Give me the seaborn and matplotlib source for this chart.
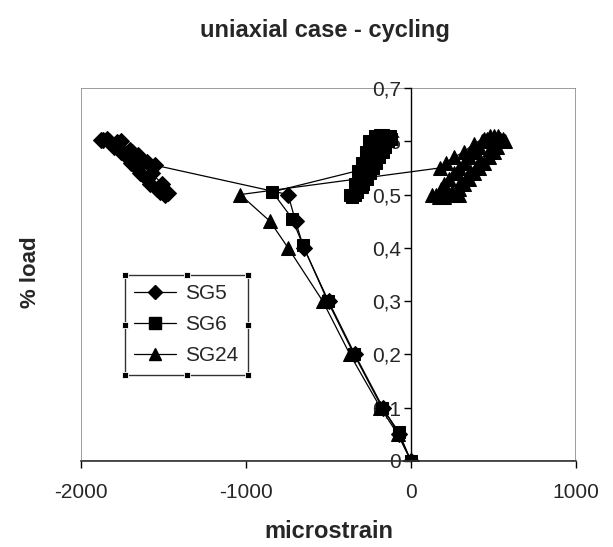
import matplotlib
matplotlib.use("Agg")
import matplotlib.pyplot as plt
from matplotlib.patches import Rectangle
from matplotlib.lines import Line2D
from matplotlib.ticker import FuncFormatter
import seaborn as sns
import pandas as pd

# strain gauge readings: monotonic loading to 50 %, then cycling between 50 % and 60 %
sg5_strain = [0, -75, -170, -340, -500, -650, -700, -745,
              -1550, -1600, -1655, -1705, -1780, -1865,
              -1830, -1760, -1700, -1640, -1580, -1520, -1475,
              -1510, -1570, -1630, -1690, -1760, -1840, -1880,
              -1800, -1720, -1660, -1600, -1540, -1490]
sg5_load = [0, 0.05, 0.10, 0.20, 0.30, 0.40, 0.45, 0.50,
            0.555, 0.562, 0.574, 0.583, 0.598, 0.602,
            0.600, 0.580, 0.560, 0.540, 0.520, 0.505, 0.503,
            0.520, 0.540, 0.560, 0.580, 0.600, 0.605, 0.603,
            0.590, 0.570, 0.550, 0.530, 0.510, 0.500]

sg6_strain = [0, -75, -175, -345, -505, -655, -720, -840,
              -320, -300, -275, -255, -220, -170, -130,
              -160, -195, -230, -265, -300, -340, -370,
              -340, -300, -270, -250, -230, -190, -150, -120,
              -170, -210, -250, -290, -330, -360,
              -330, -290, -260, -240, -210, -180, -140]
sg6_load = [0, 0.055, 0.10, 0.20, 0.30, 0.405, 0.455, 0.505,
            0.545, 0.560, 0.580, 0.600, 0.610, 0.612, 0.610,
            0.590, 0.570, 0.550, 0.530, 0.515, 0.500, 0.500,
            0.520, 0.540, 0.560, 0.580, 0.600, 0.612, 0.610, 0.605,
            0.580, 0.560, 0.540, 0.520, 0.505, 0.495,
            0.510, 0.530, 0.550, 0.570, 0.590, 0.600, 0.600]

sg24_strain = [0, -80, -185, -370, -535, -745, -855, -1035,
               176, 210, 260, 320, 380, 440, 500, 560,
               520, 470, 410, 350, 290, 230, 170, 130,
               180, 230, 290, 350, 410, 460, 530, 570,
               500, 440, 380, 320, 260, 200, 150,
               200, 260, 320, 380, 430, 480, 540,
               480, 420, 360, 300, 250, 290]
sg24_load = [0, 0.05, 0.10, 0.20, 0.30, 0.40, 0.45, 0.50,
             0.550, 0.560, 0.570, 0.580, 0.595, 0.605, 0.610, 0.605,
             0.590, 0.570, 0.550, 0.530, 0.510, 0.500, 0.495, 0.500,
             0.510, 0.530, 0.550, 0.570, 0.590, 0.605, 0.610, 0.600,
             0.580, 0.560, 0.540, 0.520, 0.500, 0.495, 0.500,
             0.520, 0.540, 0.560, 0.580, 0.600, 0.610, 0.605,
             0.585, 0.565, 0.545, 0.525, 0.505, 0.500]

series_names = ["SG5", "SG6", "SG24"]
series_markers = {"SG5": "D", "SG6": "s", "SG24": "^"}
series_sizes = {"SG5": 8, "SG6": 8.5, "SG24": 9.5}

x_ticks = [-2000, -1000, 0, 1000]
y_ticks = [0, 0.1, 0.2, 0.3, 0.4, 0.5, 0.6, 0.7]

frames = []
for name, xs, ys in zip(series_names,
                        [sg5_strain, sg6_strain, sg24_strain],
                        [sg5_load, sg6_load, sg24_load]):
    frames.append(pd.DataFrame({"microstrain": xs, "load": ys, "gauge": name}))
df = pd.concat(frames, ignore_index=True)

sns.set_style("white")
plt.rcParams["font.family"] = ["Liberation Sans", "DejaVu Sans"]
plt.rcParams["axes.unicode_minus"] = False

fig = plt.figure(figsize=(6.13, 5.47), dpi=100)
ax = fig.add_axes([81 / 613, 1 - 461 / 547, 495 / 613, 373 / 547])

for name in series_names:
    sub = df[df["gauge"] == name]
    sns.lineplot(data=sub, x="microstrain", y="load", ax=ax, sort=False,
                 estimator=None, color="black", linewidth=0.9,
                 marker=series_markers[name], markersize=series_sizes[name],
                 markeredgecolor="black", markerfacecolor="black", legend=False)

ax.set_xlim(-2000, 1000)
ax.set_ylim(0, 0.7)
ax.set_xticks(x_ticks)
ax.set_yticks(y_ticks)
ax.yaxis.set_major_formatter(FuncFormatter(
    lambda v, p: "0" if abs(v) < 1e-9 else f"{v:.1f}".replace(".", ",")))

# plot-area frame in grey, value axis crossing at zero
ax.add_patch(Rectangle((0, 0), 1, 1, transform=ax.transAxes, fill=False,
                       edgecolor="#8c8c8c", linewidth=1.2, zorder=0.5))
for side in ["top", "right"]:
    ax.spines[side].set_visible(False)
ax.spines["left"].set_position(("data", 0))
ax.spines["left"].set_color("black")
ax.spines["left"].set_linewidth(1.0)
ax.spines["bottom"].set_color("#333333")
ax.spines["bottom"].set_linewidth(1.2)

ax.tick_params(axis="x", direction="out", length=5, width=1, color="black",
               labelsize=15, pad=11, bottom=True)
ax.tick_params(axis="y", direction="out", length=5, width=1, color="black",
               labelsize=15, pad=2, left=True)
ax.set_xlabel("microstrain", fontsize=17, fontweight="bold", labelpad=13)
ax.set_ylabel("")
fig.text(30 / 613, 1 - 272 / 547, "% load", rotation=90, fontsize=16,
         fontweight="bold", ha="center", va="center")
fig.text(0.53, 1 - 31 / 547, "uniaxial case - cycling", fontsize=17,
         fontweight="bold", ha="center", va="center")

handles = [Line2D([], [], color="black", linewidth=0.9, marker=series_markers[n],
                  markersize=series_sizes[n] - 0.5, markerfacecolor="black")
           for n in series_names]
leg = ax.legend(handles, series_names, loc="upper left",
                bbox_to_anchor=(0.089, 0.499), fontsize=15, frameon=True,
                fancybox=False, shadow=False, handlelength=2.0,
                handletextpad=0.45, labelspacing=0.58, borderpad=0.45,
                borderaxespad=0)
leg.get_frame().set_edgecolor("black")
leg.get_frame().set_linewidth(1.0)

# selection handles around the legend frame
fig.canvas.draw()
bb = leg.get_frame().get_window_extent().transformed(ax.transAxes.inverted())
hx = [bb.x0, (bb.x0 + bb.x1) / 2, bb.x1]
hy = [bb.y0, (bb.y0 + bb.y1) / 2, bb.y1]
for i, xh in enumerate(hx):
    for j, yh in enumerate(hy):
        if i == 1 and j == 1:
            continue
        ax.plot(xh, yh, marker="s", markersize=4.5, color="black",
                markeredgecolor="white", markeredgewidth=0.6,
                transform=ax.transAxes, clip_on=False, zorder=10)

fig.savefig("out.png", dpi=100)
